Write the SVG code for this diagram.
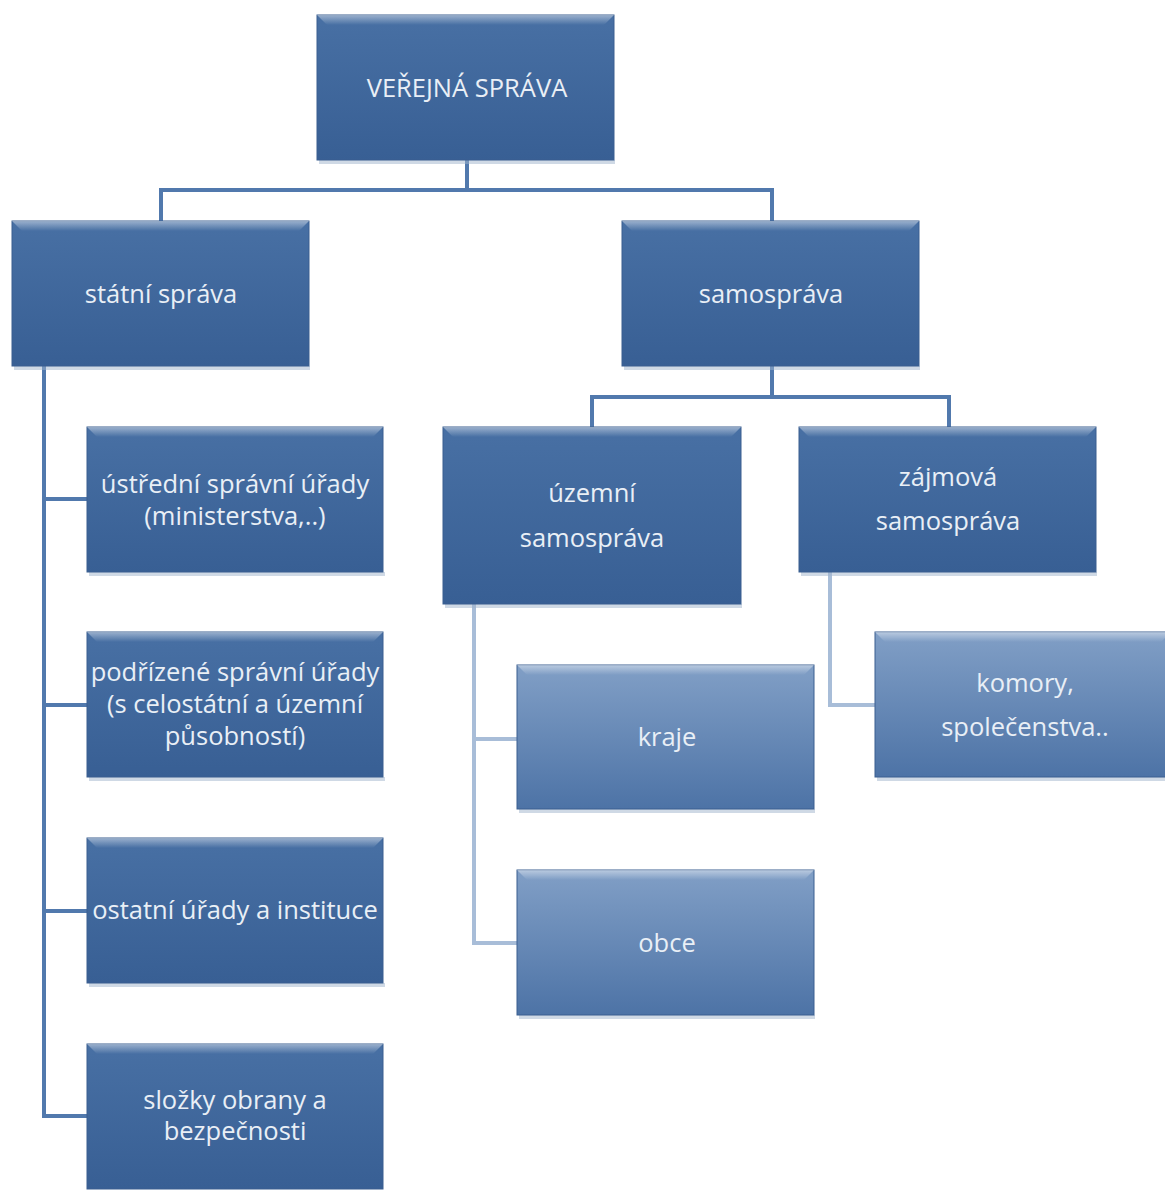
<svg xmlns="http://www.w3.org/2000/svg" width="1165" height="1190" viewBox="0 0 1165 1190">
<defs>
<linearGradient id="gDark" x1="0" y1="0" x2="0" y2="1">
<stop offset="0" stop-color="#4870a4"/>
<stop offset="1" stop-color="#385f94"/>
</linearGradient>
<linearGradient id="gLight" x1="0" y1="0" x2="0" y2="1">
<stop offset="0" stop-color="#819fc6"/>
<stop offset="1" stop-color="#4d73a6"/>
</linearGradient>
<linearGradient id="bevel" x1="0" y1="0" x2="0" y2="1">
<stop offset="0" stop-color="#ffffff" stop-opacity="0.45"/>
<stop offset="1" stop-color="#ffffff" stop-opacity="0"/>
</linearGradient>
</defs>
<style>
.box{stroke:#3a5f90;stroke-width:1}
.dark{fill:url(#gDark)}
.light{fill:url(#gLight)}
.shadow{fill:#9fb3cc;opacity:0.5}
.bev{fill:url(#bevel)}
.t{font-family:"Open Sans","Noto Sans",sans-serif;font-size:25.5px;fill:#e9eff6;text-anchor:middle}
.c{fill:none;stroke:#5179ad;stroke-width:4}
.cl{fill:none;stroke:#a8bdd8;stroke-width:4}
</style>
<rect width="1165" height="1190" fill="#ffffff"/>
<g id="connectors">
<path class="c" d="M467,160 V190 H161 V221 M467,190 H772 V221"/>
<path class="c" d="M772,366 V397 H592 V427 M772,397 H949 V427"/>
<path class="c" d="M44,366 V1116 H87 M44,499 H87 M44,705 H87 M44,911 H87"/>
<path class="cl" d="M474,604 V943 H517 M474,739 H517"/>
<path class="cl" d="M830,572 V705 H875"/>
</g>
<g id="n-verejna">
<rect class="shadow" x="319" y="160" width="296" height="4"/>
<rect class="box dark" x="317" y="15" width="297" height="145"/>
<polygon class="bev" points="317,15 614,15 604,25 327,25"/>
<text class="t" x="467" y="97">VEŘEJNÁ SPRÁVA</text>
</g>
<g id="n-statni">
<rect class="shadow" x="14" y="366" width="296" height="4"/>
<rect class="box dark" x="12" y="221" width="297" height="145"/>
<polygon class="bev" points="12,221 309,221 299,231 22,231"/>
<text class="t" x="161" y="303">státní správa</text>
</g>
<g id="n-samosprava">
<rect class="shadow" x="624" y="366" width="296" height="4"/>
<rect class="box dark" x="622" y="221" width="297" height="145"/>
<polygon class="bev" points="622,221 919,221 909,231 632,231"/>
<text class="t" x="771" y="303">samospráva</text>
</g>
<g id="n-ustredni">
<rect class="shadow" x="89" y="572" width="296" height="4"/>
<rect class="box dark" x="87" y="427" width="296" height="145"/>
<polygon class="bev" points="87,427 383,427 373,437 97,437"/>
<text class="t" x="235" y="493">ústřední správní úřady</text>
<text class="t" x="235" y="525">(ministerstva,..)</text>
</g>
<g id="n-podrizene">
<rect class="shadow" x="89" y="777" width="296" height="4"/>
<rect class="box dark" x="87" y="632" width="296" height="145"/>
<polygon class="bev" points="87,632 383,632 373,642 97,642"/>
<text class="t" x="235" y="681">podřízené správní úřady</text>
<text class="t" x="235" y="713">(s celostátní a územní</text>
<text class="t" x="235" y="745">působností)</text>
</g>
<g id="n-ostatni">
<rect class="shadow" x="89" y="983" width="296" height="4"/>
<rect class="box dark" x="87" y="838" width="296" height="145"/>
<polygon class="bev" points="87,838 383,838 373,848 97,848"/>
<text class="t" x="235" y="919">ostatní úřady a instituce</text>
</g>
<g id="n-slozky">
<rect class="box dark" x="87" y="1044" width="296" height="145"/>
<polygon class="bev" points="87,1044 383,1044 373,1054 97,1054"/>
<text class="t" x="235" y="1109">složky obrany a</text>
<text class="t" x="235" y="1140">bezpečnosti</text>
</g>
<g id="n-uzemni">
<rect class="shadow" x="445" y="604" width="297" height="4"/>
<rect class="box dark" x="443" y="427" width="298" height="177"/>
<polygon class="bev" points="443,427 741,427 731,437 453,437"/>
<text class="t" x="592" y="502">územní</text>
<text class="t" x="592" y="547">samospráva</text>
</g>
<g id="n-zajmova">
<rect class="shadow" x="801" y="572" width="296" height="4"/>
<rect class="box dark" x="799" y="427" width="297" height="145"/>
<polygon class="bev" points="799,427 1096,427 1086,437 809,437"/>
<text class="t" x="948" y="486">zájmová</text>
<text class="t" x="948" y="530">samospráva</text>
</g>
<g id="n-kraje">
<rect class="shadow" x="519" y="809" width="296" height="4"/>
<rect class="box light" x="517" y="665" width="297" height="144"/>
<polygon class="bev" points="517,665 814,665 804,675 527,675"/>
<text class="t" x="667" y="746">kraje</text>
</g>
<g id="n-obce">
<rect class="shadow" x="519" y="1015" width="296" height="4"/>
<rect class="box light" x="517" y="870" width="297" height="145"/>
<polygon class="bev" points="517,870 814,870 804,880 527,880"/>
<text class="t" x="667" y="952">obce</text>
</g>
<g id="n-komory">
<rect class="shadow" x="877" y="777" width="290" height="4"/>
<rect class="box light" x="875" y="632" width="296" height="145"/>
<polygon class="bev" points="875,632 1171,632 1161,642 885,642"/>
<text class="t" x="1025" y="692">komory,</text>
<text class="t" x="1025" y="736">společenstva..</text>
</g>
</svg>
